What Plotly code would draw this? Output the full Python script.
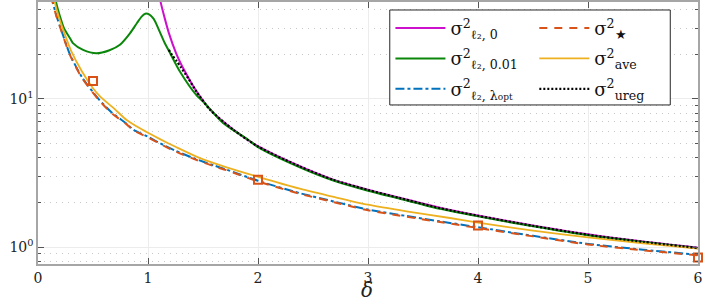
import plotly.graph_objects as go

# ---------------- data ----------------
delta_l2_0 = [1.105, 1.115, 1.15, 1.19, 1.255, 1.3, 1.37, 1.44, 1.564, 1.776, 2.0, 2.38, 2.685, 3.0, 3.29, 3.655, 4.0, 4.5, 5.0, 5.5, 6.0]
sigma_l2_0 = [50, 45, 35.5, 27.8, 20.4, 17.2, 13.8, 11.3, 8.5, 6.2, 4.79, 3.51, 2.85, 2.44, 2.15, 1.84, 1.63, 1.40, 1.22, 1.09, 0.99]

delta_l2_001 = [0.15, 0.164, 0.2, 0.236, 0.3, 0.32, 0.41, 0.53, 0.65, 0.745, 0.836, 0.9, 0.94, 0.975, 1.01, 1.05, 1.08, 1.11, 1.15, 1.2, 1.29, 1.44, 1.5, 1.685, 1.91, 2.0, 2.38, 2.685, 3.0, 3.29, 3.655, 4.0, 4.5, 5.0, 5.5, 6.0]
sigma_l2_001 = [52, 45, 36, 30, 25, 23.7, 21.4, 20.3, 21.3, 23.2, 27.7, 32.5, 35.8, 37.6, 37.2, 34.8, 31.5, 28, 24, 20.4, 15.3, 10.6, 9.6, 6.85, 5.3, 4.72, 3.45, 2.81, 2.40, 2.12, 1.81, 1.61, 1.38, 1.20, 1.08, 0.98]

delta_l2_opt = [0.125, 0.134, 0.17, 0.206, 0.29, 0.4, 0.55, 0.67, 0.806, 0.867, 1.0, 1.109, 1.25, 1.41, 1.6, 1.715, 2.0, 2.38, 2.7, 3.0, 3.35, 3.655, 4.0, 4.5, 5.0, 5.5, 6.0]
sigma_l2_opt = [50, 45, 36, 30, 20, 14, 10, 8.1, 6.8, 6.2, 5.55, 5.02, 4.47, 3.99, 3.55, 3.33, 2.80, 2.31, 2.02, 1.79, 1.62, 1.49, 1.36, 1.19, 1.05, 0.96, 0.887]

delta_star = [0.125, 0.134, 0.17, 0.206, 0.29, 0.4, 0.55, 0.67, 0.806, 0.867, 1.0, 1.109, 1.25, 1.41, 1.6, 1.715, 2.0, 2.38, 2.7, 3.0, 3.35, 3.655, 4.0, 4.5, 5.0, 5.5, 6.0]
sigma_star = [49.5, 44.6, 35.6, 29.7, 19.8, 13.85, 9.9, 8.0, 6.73, 6.14, 5.49, 4.97, 4.42, 3.95, 3.51, 3.30, 2.77, 2.29, 2.0, 1.77, 1.60, 1.475, 1.345, 1.18, 1.04, 0.95, 0.878]

delta_ave = [0.14, 0.152, 0.19, 0.224, 0.3, 0.4, 0.5, 0.564, 0.7, 0.806, 0.9, 1.0, 1.109, 1.25, 1.473, 1.715, 2.0, 2.38, 2.7, 3.0, 3.35, 3.745, 4.0, 4.5, 5.0, 5.5, 6.0]
sigma_ave = [50, 45, 35.5, 30, 21.2, 15.3, 11.8, 10.4, 8.5, 7.2, 6.5, 5.9, 5.35, 4.75, 3.98, 3.45, 2.98, 2.48, 2.17, 1.93, 1.74, 1.57, 1.46, 1.29, 1.16, 1.06, 0.975]

delta_ureg = [1.19, 1.22, 1.26, 1.3, 1.37, 1.44, 1.564, 1.776, 2.0, 2.38, 2.685, 3.0, 3.29, 3.655, 4.0, 4.5, 5.0, 5.5, 6.0]
sigma_ureg = [21.4, 19.7, 18.0, 16.3, 13.6, 11.2, 8.45, 6.18, 4.77, 3.50, 2.84, 2.43, 2.14, 1.83, 1.626, 1.39, 1.21, 1.085, 0.985]

delta_markers = [0.5, 2, 4, 6]
sigma_markers = [13.2, 2.84, 1.40, 0.85]

x_ticks = [0, 1, 2, 3, 4, 5, 6]
y_ticks = [1, 10]
y_ticktext = ["10<sup>0</sup>", "10<sup>1</sup>"]
y_minor = [0.8, 0.9, 2, 3, 4, 5, 6, 7, 8, 9, 20, 30, 40]
x_label = "<i>δ</i>"

names = {
    "l2_0": "σ<sup>2</sup><sub>ℓ₂, 0</sub>",
    "l2_001": "σ<sup>2</sup><sub>ℓ₂, 0.01</sub>",
    "l2_opt": "σ<sup>2</sup><sub>ℓ₂, λ<span style='font-size:9px'>opt</span></sub>",
    "star": "σ<sup>2</sup><sub>★</sub>",
    "ave": "σ<sup>2</sup><sub>ave</sub>",
    "ureg": "σ<sup>2</sup><sub>ureg</sub>",
}

SERIF = "DejaVu Serif"

fig = go.Figure()


def add_line(x, y, key, color, width, dash, legend):
    fig.add_trace(go.Scatter(
        x=x, y=y, mode="lines", name=names[key],
        line=dict(color=color, width=width, dash=dash, shape="spline", smoothing=0.7),
        legend=legend, legendgroup=key,
    ))


add_line(delta_l2_0, sigma_l2_0, "l2_0", "#CC11CC", 2, "solid", "legend")
add_line(delta_l2_001, sigma_l2_001, "l2_001", "#0A870A", 2, "solid", "legend")
add_line(delta_l2_opt, sigma_l2_opt, "l2_opt", "#0072BD", 2, "dashdot", "legend")
add_line(delta_star, sigma_star, "star", "#D95319", 2, "8px,7px", "legend2")
add_line(delta_ave, sigma_ave, "ave", "#EDB120", 1.8, "solid", "legend2")
add_line(delta_ureg, sigma_ureg, "ureg", "#000000", 2.2, "2px,2px", "legend2")

fig.add_trace(go.Scatter(
    x=delta_markers, y=sigma_markers, mode="markers", showlegend=False,
    marker=dict(symbol="square-open", size=8, color="#D95319", line=dict(width=2)),
    cliponaxis=False,
))

axis_common = dict(
    showline=True, linecolor="#a6a6a6", linewidth=1.5, mirror="allticks",
    ticks="inside", tickcolor="#555555", ticklen=6, tickwidth=1,
    showgrid=True, gridcolor="#ececec", gridwidth=1, zeroline=False,
    tickfont=dict(family=SERIF, size=14, color="#222222"),
    automargin=False, ticklabeloverflow="allow",
)

fig.update_xaxes(range=[0, 6], tickvals=x_ticks, **axis_common)
fig.update_yaxes(
    type="log", range=[-0.1146, 1.654], tickvals=y_ticks, ticktext=y_ticktext,
    minor=dict(tickvals=y_minor, ticks="inside", ticklen=3, tickcolor="#555555",
               showgrid=True, gridcolor="#c8c8c8", griddash="1px,5px", gridwidth=1),
    **axis_common,
)

legend_common = dict(
    bgcolor="rgba(0,0,0,0)", borderwidth=0, orientation="v",
    font=dict(family=SERIF, size=18, color="#111111"),
    itemwidth=50, tracegroupgap=4, yanchor="top", xanchor="left",
    itemclick=False, itemdoubleclick=False,
)

fig.update_layout(
    width=705, height=300,
    margin=dict(l=38, r=7, t=2, b=36),
    paper_bgcolor="white", plot_bgcolor="white",
    legend=dict(x=0.534, y=0.970, **legend_common),
    legend2=dict(x=0.752, y=0.970, **legend_common),
    shapes=[dict(type="rect", xref="paper", yref="paper",
                 x0=0.533, x1=0.958, y0=0.607, y1=0.9695,
                 line=dict(color="#262626", width=1), fillcolor="white", layer="above")],
    annotations=[dict(text=x_label, xref="paper", yref="paper", x=0.498, y=-0.101,
                      xanchor="center", yanchor="middle", showarrow=False,
                      font=dict(family=SERIF, size=20, color="#222222"))],
)

fig.write_html(
    "out.html",
    config={"displayModeBar": False},
    post_script="document.body.style.margin='0';document.body.style.padding='0';",
)
